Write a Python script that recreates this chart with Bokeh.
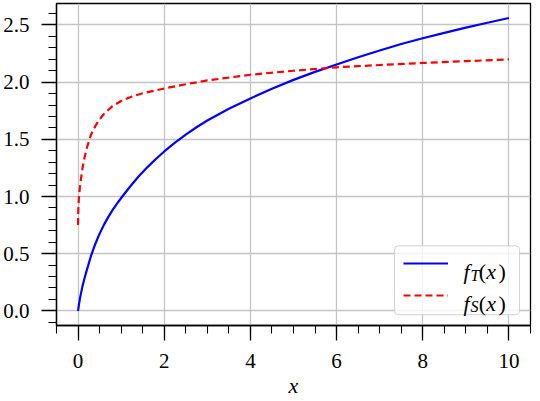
from bokeh.plotting import figure
from bokeh.models import Range1d, SingleIntervalTicker, Legend, LegendItem, Label, PrintfTickFormatter, BoxAnnotation
from bokeh.embed import file_html
from bokeh.resources import INLINE

# ---- data ----
x_T = [0, 0.02, 0.05, 0.1, 0.15, 0.2, 0.3, 0.4, 0.5, 0.6, 0.7, 0.8, 0.9, 1.0, 1.2, 1.4, 1.6, 1.8,
       2.0, 2.25, 2.5, 2.75, 3.0, 3.5, 4.0, 4.5, 5.0, 5.5, 6.0, 6.5, 7.0, 7.5, 8.0, 8.5, 9.0, 9.5, 10.0]
y_T = [0, 0.052, 0.12, 0.21, 0.285, 0.352, 0.48, 0.585, 0.675, 0.752, 0.820, 0.881, 0.936, 0.987,
       1.083, 1.173, 1.253, 1.326, 1.394, 1.471, 1.541, 1.606, 1.665, 1.768, 1.858, 1.942, 2.020,
       2.090, 2.155, 2.218, 2.277, 2.334, 2.384, 2.431, 2.477, 2.520, 2.561]

x_S = [0, 0.005, 0.01, 0.02, 0.04, 0.07, 0.1, 0.15, 0.2, 0.25, 0.3, 0.4, 0.5, 0.6, 0.8, 1.0,
       1.25, 1.5, 2.0, 2.5, 3.0, 4.0, 5.0, 6.0, 7.0, 8.0, 9.0, 10.0]
y_S = [0.75, 0.86, 0.92, 0.99, 1.07, 1.16, 1.24, 1.34, 1.42, 1.48, 1.54, 1.615, 1.675, 1.722,
       1.79, 1.835, 1.875, 1.903, 1.945, 1.982, 2.015, 2.065, 2.10, 2.13, 2.15, 2.168, 2.184, 2.199]

x_tick_interval = 2
y_tick_interval = 0.5
x_label = "x"
legend_T = ("f", "T")
legend_S = ("f", "S")

FONT = "Liberation Serif"
FS = "21px"
FL = "22px"

p = figure(width=532, height=400,
           x_range=Range1d(-0.5, 10.5), y_range=Range1d(-0.128, 2.688),
           output_backend="svg", toolbar_location=None,
           min_border_left=56, min_border_right=2, min_border_top=3, min_border_bottom=70)

p.background_fill_color = "white"
p.border_fill_color = "white"
p.outline_line_color = "black"
p.outline_line_width = 1.3
p.outline_line_alpha = 1.0

xt = SingleIntervalTicker(interval=x_tick_interval, num_minor_ticks=4)
yt = SingleIntervalTicker(interval=y_tick_interval, num_minor_ticks=5)
p.xaxis.ticker = xt
p.yaxis.ticker = yt
p.xgrid.ticker = xt
p.ygrid.ticker = yt
p.yaxis.formatter = PrintfTickFormatter(format="%.1f")

for ax in (p.xaxis[0], p.yaxis[0]):
    ax.axis_line_color = "black"
    ax.axis_line_width = 1.3
    ax.major_tick_line_color = "black"
    ax.minor_tick_line_color = "black"
    ax.major_tick_line_width = 1.3
    ax.minor_tick_line_width = 1.1
    ax.major_tick_in = 0
    ax.minor_tick_in = 0
    ax.major_tick_out = 15
    ax.minor_tick_out = 8
    ax.major_label_text_font = FONT
    ax.major_label_text_font_size = FS
    ax.major_label_text_color = "black"

p.yaxis.major_label_standoff = 12
p.xaxis.major_label_standoff = 13
p.xaxis.axis_label = x_label
p.xaxis.axis_label_text_font = FONT
p.xaxis.axis_label_text_font_size = FL
p.xaxis.axis_label_text_font_style = "italic"
p.xaxis.axis_label_text_color = "black"
p.xaxis.axis_label_standoff = 2

for g in (p.xgrid[0], p.ygrid[0]):
    g.grid_line_color = "#c4c4c4"
    g.grid_line_width = 1.3

rT = p.line(x_T, y_T, line_color="#0000ff", line_width=2.2)
rS = p.line(x_S, y_S, line_color="#ff0000", line_width=2.2, line_dash="7 4")

# legend frame (rounded, semi-transparent) drawn below the legend entries
box = BoxAnnotation(left=7.345, right=10.246, top=0.569, bottom=-0.034,
                    fill_color="white", fill_alpha=0.8,
                    line_color="#cccccc", line_alpha=0.9, line_width=1, level="underlay")
if "border_radius" in BoxAnnotation.properties():
    box.border_radius = 4
p.add_layout(box)

legend = Legend(items=[LegendItem(label=" ", renderers=[rT]),
                       LegendItem(label=" ", renderers=[rS])],
                location="bottom_right", margin=11, padding=9, spacing=12,
                glyph_width=45, glyph_height=20, label_height=20, label_width=48,
                label_standoff=14, label_text_font_size="10px",
                border_line_alpha=0, background_fill_alpha=0)
p.add_layout(legend)

def add_math_label(parts, y_base, y_sub):
    f, sub = parts
    base = dict(text_font=FONT, text_baseline="alphabetic", text_color="black", level="overlay")
    p.add_layout(Label(x=8.945, y=y_base, text=f, text_font_size=FL, text_font_style="italic", **base))
    p.add_layout(Label(x=9.105, y=y_sub, text=sub, text_font_size="16px", text_font_style="italic", **base))
    p.add_layout(Label(x=9.30, y=y_base, text="(", text_font_size=FL, **base))
    p.add_layout(Label(x=9.475, y=y_base, text="x", text_font_size=FL, text_font_style="italic", **base))
    p.add_layout(Label(x=9.76, y=y_base, text=")", text_font_size=FL, **base))

add_math_label(legend_T, 0.343, 0.313)
add_math_label(legend_S, 0.067, 0.038)

open("out.html", "w").write(file_html(p, INLINE))
